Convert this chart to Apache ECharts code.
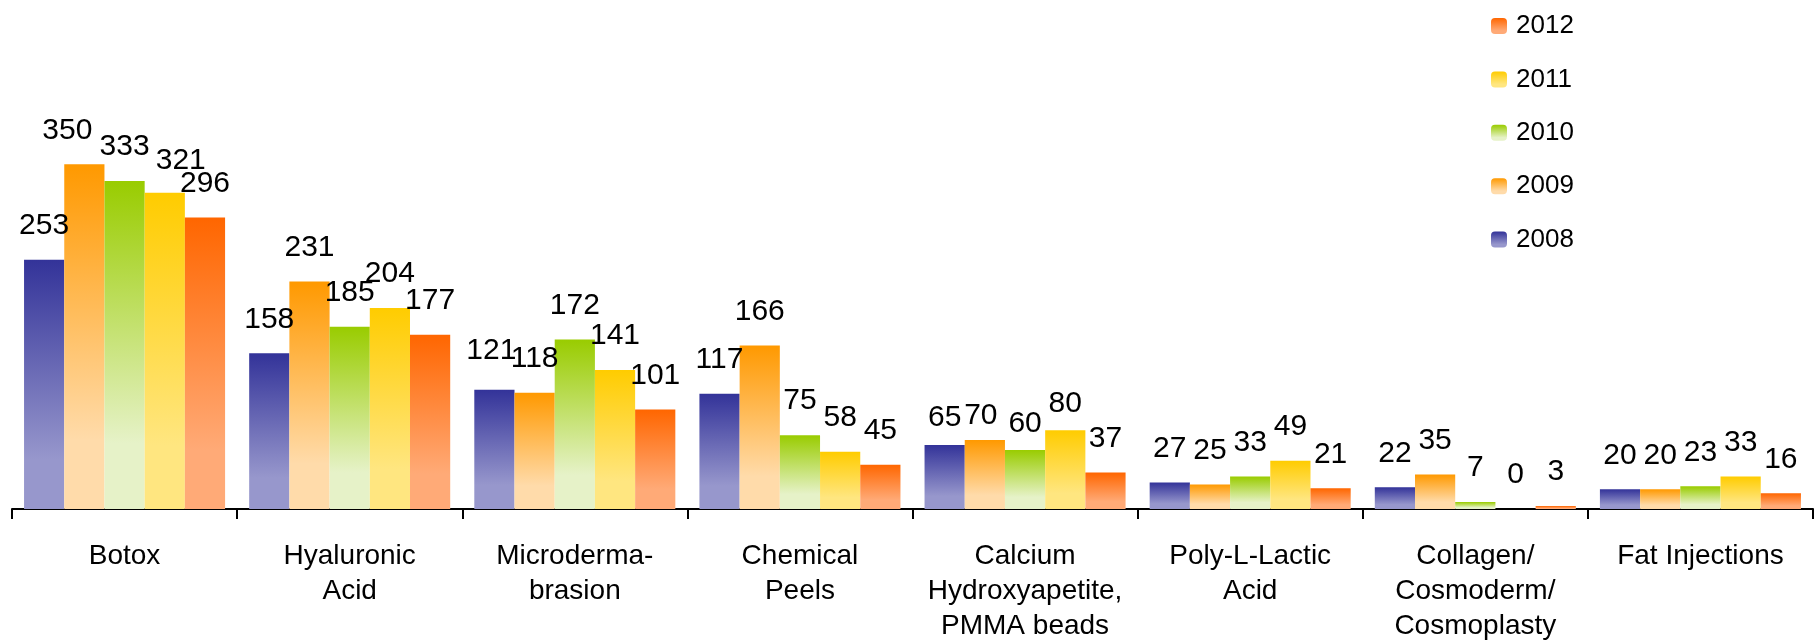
<!DOCTYPE html>
<html>
<head>
<meta charset="utf-8">
<script src="https://cdn.jsdelivr.net/npm/echarts@6/dist/echarts.min.js"></script>
<style>html,body{margin:0;padding:0;background:#fff;}#c{width:1816px;height:644px;}</style>
</head>
<body>
<div id="c"></div>
<script>
const categories = ["Botox", "Hyaluronic\nAcid", "Microderma-\nbrasion", "Chemical\nPeels", "Calcium\nHydroxyapetite,\nPMMA beads", "Poly-L-Lactic\nAcid", "Collagen/\nCosmoderm/\nCosmoplasty", "Fat Injections"];
const years = ["2008", "2009", "2010", "2011", "2012"];
const v2008 = [253, 158, 121, 117, 65, 27, 22, 20];
const v2009 = [350, 231, 118, 166, 70, 25, 35, 20];
const v2010 = [333, 185, 172, 75, 60, 33, 7, 23];
const v2011 = [321, 204, 141, 58, 80, 49, 0, 33];
const v2012 = [296, 177, 101, 45, 37, 21, 3, 16];
const seriesValues = [v2008, v2009, v2010, v2011, v2012];

// styling
const FONT = "'Liberation Sans', Arial, sans-serif";
const gradients = [
  ['#333399', '#9797cc'],
  ['#ff9900', '#ffdbaa'],
  ['#99cc00', '#e6f2c8'],
  ['#ffcc00', '#ffe680'],
  ['#ff6600', '#ffaa77']
];
// manual label nudges (series index -> category index -> [dx, dy])
const labelNudges = {
  0: {2: [-3, -5], 4: [0, 7]},
  1: {0: [-17, 0], 4: [-4, 10]},
  2: {4: [0, 8]},
  3: {0: [16, 2], 4: [0, 8]}
};

function grad(c) {
  return new echarts.graphic.LinearGradient(0, 0, 0, 1, [
    {offset: 0, color: c[0]},
    {offset: 0.8, color: c[1]},
    {offset: 1, color: c[1]}
  ]);
}

const chart = echarts.init(document.getElementById('c'), null, {renderer: 'canvas'});
const series = years.map((y, si) => ({
  name: y,
  type: 'bar',
  barGap: '0%',
  barCategoryGap: '10.7%',
  itemStyle: {color: grad(gradients[si])},
  label: {
    show: true, position: 'top', distance: 19,
    color: '#000', fontSize: 30, fontFamily: FONT
  },
  data: seriesValues[si].map((v, ci) => {
    const n = labelNudges[si] && labelNudges[si][ci];
    return n ? {value: v, label: {offset: n}} : v;
  })
}));

chart.setOption({
  animation: false,
  backgroundColor: '#fff',
  textStyle: {fontFamily: FONT},
  grid: {left: 12, right: 3, top: 115, bottom: 126.5, containLabel: false},
  legend: {
    orient: 'vertical',
    left: 1486, top: 8,
    itemWidth: 16, itemHeight: 16, itemGap: 27.4,
    data: ['2012', '2011', '2010', '2009', '2008'],
    textStyle: {fontSize: 26, color: '#000', fontFamily: FONT, padding: [0, 0, 0, 4]}
  },
  xAxis: {
    type: 'category',
    data: categories,
    axisLine: {lineStyle: {color: '#000', width: 2}},
    axisTick: {show: true, length: 10, lineStyle: {color: '#000', width: 2}},
    axisLabel: {interval: 0, color: '#000', fontSize: 28, fontFamily: FONT, lineHeight: 35, margin: 30}
  },
  yAxis: {
    type: 'value', min: 0, max: 400,
    show: false,
    splitLine: {show: false}
  },
  series: series
});
</script>
</body>
</html>
